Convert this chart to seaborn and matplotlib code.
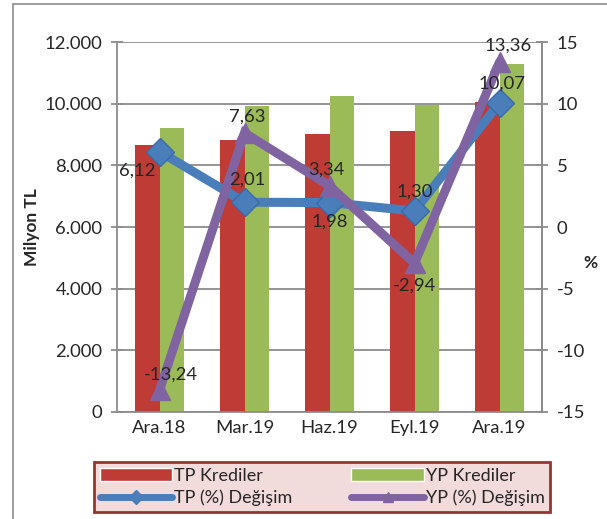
import matplotlib
matplotlib.use("Agg")
import matplotlib.pyplot as plt
import seaborn as sns
import pandas as pd
from matplotlib.patches import Rectangle, Patch
from matplotlib.lines import Line2D
from matplotlib.ticker import FuncFormatter, FixedLocator

# Data
periods = ["Ara.18", "Mar.19", "Haz.19", "Eyl.19", "Ara.19"]
tp_credit = [8660, 8820, 9020, 9110, 10050]
yp_credit = [9210, 9920, 10250, 9960, 11290]
tp_change = [6.12, 2.01, 1.98, 1.30, 10.07]
yp_change = [-13.24, 7.63, 3.34, -2.94, 13.36]

# label offsets in points (dx, dy) for each point
tp_offsets = [(-16, -14), (2, 16), (0, -14), (0, 14), (2, 14)]
yp_offsets = [(8, 11), (2, 12), (-2, 12), (0, -16), (6, 12)]

sns.set_style("white")
plt.rcParams["font.family"] = ["Lato", "DejaVu Sans"]
plt.rcParams["axes.unicode_minus"] = False

red = "#bf3b35"
green = "#9bbb59"
blue = "#4a7ebb"
purple = "#8064a2"
gray = "#8c8c8c"
fs = 13.3

df = pd.DataFrame({
    "Dönem": periods * 2,
    "Değer": tp_credit + yp_credit,
    "Seri": ["TP Krediler"] * 5 + ["YP Krediler"] * 5,
})

fig = plt.figure(figsize=(6.07, 5.19), dpi=100)
fig.patches.append(Rectangle((13 / 607, -0.1), 1.2, 1 - 4 / 519 + 0.1,
                             transform=fig.transFigure, fill=False,
                             edgecolor=gray, linewidth=1.2))
ax = fig.add_axes([117 / 607, 1 - 412 / 519, 425 / 607, 370 / 519])

sns.barplot(data=df, x="Dönem", y="Değer", hue="Seri", ax=ax,
            palette=[red, green], width=0.565, saturation=1,
            legend=False, edgecolor="none")
ax.set_ylim(0, 12000)
ax.set_xlim(-0.5, 4.5)
ax.yaxis.set_major_locator(FixedLocator(range(0, 12001, 2000)))
ax.yaxis.set_major_formatter(FuncFormatter(lambda v, p: f"{int(v):,}".replace(",", ".")))
ax.grid(axis="y", color=gray, linewidth=1.3)
ax.set_axisbelow(True)
ax.set_xlabel("")
ax.set_ylabel("")
fig.text(32 / 607, 1 - 227 / 519, "Milyon TL", fontsize=12.5, fontweight="bold",
         rotation=90, ha="center", va="center")
ax.tick_params(axis="y", direction="inout", length=9, width=1.3, color=gray,
               labelsize=fs, pad=6)
ax.set_xticks(range(5))
ax.set_xticklabels(periods)
ax.tick_params(axis="x", length=0, labelsize=fs, pad=6)
ax.set_xticks([i - 0.5 for i in range(6)], minor=True)
ax.tick_params(axis="x", which="minor", direction="out", length=8, width=1.3, color=gray)
for s in ["left", "bottom", "right"]:
    ax.spines[s].set_color(gray)
    ax.spines[s].set_linewidth(1.3)
ax.spines["top"].set_visible(False)

ax2 = ax.twinx()
ax2.plot(range(5), tp_change, color=blue, linewidth=6.5, marker="D",
         markersize=14, markerfacecolor=blue, markeredgecolor="#3a6aa8",
         solid_joinstyle="miter", zorder=3)
ax2.plot(range(5), yp_change, color=purple, linewidth=6.5, marker="^",
         markersize=14, markerfacecolor=purple, markeredgecolor=purple,
         solid_joinstyle="miter", zorder=4)
ax2.set_ylim(-15, 15)
ax2.set_xlim(-0.5, 4.5)
ax2.yaxis.set_major_locator(FixedLocator(range(-15, 16, 5)))
ax2.tick_params(axis="y", direction="inout", length=9, width=1.3, color=gray,
                labelsize=fs, pad=6)
for s in ["left", "bottom", "top"]:
    ax2.spines[s].set_visible(False)
ax2.spines["right"].set_color(gray)
ax2.spines["right"].set_linewidth(1.3)
fig.text(590 / 607, 1 - 263 / 519, "%", fontsize=12.5, fontweight="bold",
         ha="center", va="center")

fmt = lambda v: f"{v:.2f}".replace(".", ",")
for i, v in enumerate(tp_change):
    ax2.annotate(fmt(v), (i, v), xytext=tp_offsets[i], textcoords="offset points",
                 ha="center", va="center", fontsize=fs, zorder=6)
for i, v in enumerate(yp_change):
    ax2.annotate(fmt(v), (i, v), xytext=yp_offsets[i], textcoords="offset points",
                 ha="center", va="center", fontsize=fs, zorder=6)

handles = [
    Patch(facecolor=red, label="TP Krediler"),
    Patch(facecolor=green, label="YP Krediler"),
    Line2D([], [], color=blue, linewidth=5, marker="D", markersize=7, label="TP (%) Değişim"),
    Line2D([], [], color=purple, linewidth=5, marker="^", markersize=7, label="YP (%) Değişim"),
]
leg = fig.legend(handles=[handles[0], handles[2], handles[1], handles[3]],
                 ncol=2, loc="center", bbox_to_anchor=(322 / 607, 1 - 487 / 519),
                 fontsize=13, frameon=True, fancybox=False, handlelength=4.0,
                 handleheight=0.7, handletextpad=0.1, columnspacing=3.3,
                 labelspacing=0.35, borderpad=0.3, borderaxespad=0)
leg.get_frame().set_facecolor("#f2dcdb")
leg.get_frame().set_edgecolor("#943634")
leg.get_frame().set_linewidth(2)
leg.get_frame().set_alpha(1)
leg._legend_box.align = "left"

fig.savefig("out.png", dpi=100)
